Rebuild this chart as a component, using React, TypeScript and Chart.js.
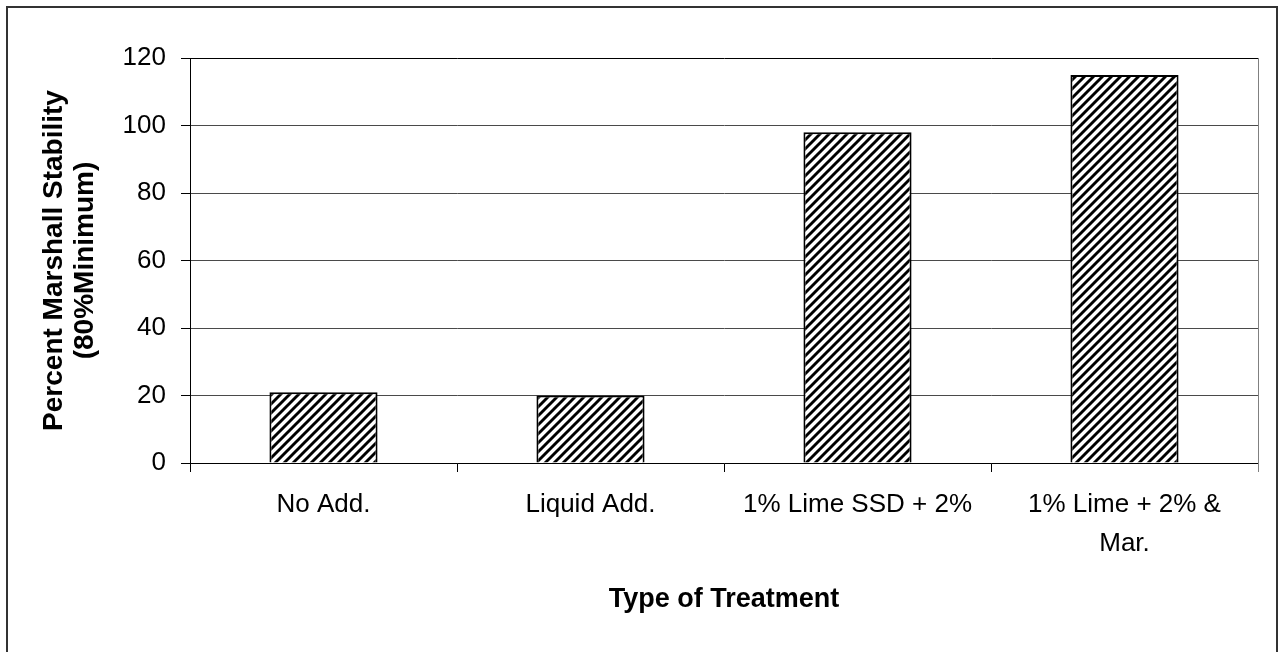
import React, { useEffect, useRef } from "react";
import { Chart, registerables } from "chart.js";

Chart.register(...registerables);

const categories: (string | string[])[] = [
  "No Add.",
  "Liquid Add.",
  "1% Lime SSD + 2%",
  ["1% Lime + 2% &", "Mar."],
];
const stabilityValues: number[] = [21, 20, 98, 115];
const yTickValues: number[] = [0, 20, 40, 60, 80, 100, 120];
const yTitle: string[] = ["Percent Marshall Stability", "(80%Minimum)"];
const xTitle = "Type of Treatment";

const FONT = "'Liberation Sans', Arial, sans-serif";

function makeHatch(): CanvasPattern | string {
  const s = 9;
  const c = document.createElement("canvas");
  c.width = s;
  c.height = s;
  const g = c.getContext("2d");
  if (!g) return "#000";
  g.fillStyle = "#fff";
  g.fillRect(0, 0, s, s);
  g.strokeStyle = "#000";
  g.lineWidth = 2.9;
  g.beginPath();
  g.moveTo(-2, 2);
  g.lineTo(2, -2);
  g.moveTo(0, s);
  g.lineTo(s, 0);
  g.moveTo(s - 2, s + 2);
  g.lineTo(s + 2, s - 2);
  g.stroke();
  const p = g.createPattern(c, "repeat");
  return p || "#000";
}

const framePlugin = {
  id: "frame",
  afterDraw(chart: any) {
    const { ctx, chartArea } = chart;
    ctx.save();
    ctx.strokeStyle = "#333";
    ctx.lineWidth = 2;
    ctx.strokeRect(7, 7, 1270, 700);
    ctx.strokeStyle = "#808080";
    ctx.lineWidth = 1;
    ctx.beginPath();
    ctx.moveTo(Math.round(chartArea.right) + 0.5, chartArea.top);
    ctx.lineTo(Math.round(chartArea.right) + 0.5, chartArea.bottom + 9);
    ctx.stroke();
    ctx.restore();
  },
};

export default function App() {
  const ref = useRef<HTMLCanvasElement | null>(null);

  useEffect(() => {
    if (!ref.current) return;
    const chart = new Chart(ref.current, {
      type: "bar",
      data: {
        labels: categories,
        datasets: [
          {
            label: "Percent Marshall Stability",
            data: stabilityValues,
            backgroundColor: makeHatch() as any,
            borderColor: "#000",
            borderWidth: 2,
            categoryPercentage: 1,
            barPercentage: 0.405,
          },
        ],
      },
      options: {
        animation: false,
        responsive: false,
        devicePixelRatio: 1,
        layout: { padding: { left: 30, top: 58, right: 23, bottom: 36 } },
        plugins: {
          legend: { display: false },
          tooltip: { enabled: false },
          title: { display: false },
        },
        scales: {
          x: {
            afterFit: (s: any) => {
              s.height = 153;
            },
            grid: {
              display: true,
              drawOnChartArea: false,
              drawTicks: true,
              tickLength: 9,
              color: "#000",
              tickColor: "#000",
              offset: true,
            },
            border: { display: true, color: "#000", width: 1 },
            ticks: {
              color: "#000",
              font: { family: FONT, size: 26, lineHeight: 1.5 },
              padding: 13,
              maxRotation: 0,
              minRotation: 0,
              autoSkip: false,
            },
            title: {
              display: true,
              text: xTitle,
              color: "#000",
              font: { family: FONT, size: 27, weight: "bold", lineHeight: 1.2 },
              padding: { top: 0, bottom: 0 },
            },
          },
          y: {
            min: 0,
            max: 120,
            afterFit: (s: any) => {
              s.width = 160;
            },
            afterBuildTicks: (s: any) => {
              s.ticks = yTickValues.map((v) => ({ value: v }));
            },
            grid: {
              color: (c: any) => (c.tick && c.tick.value === 120 ? "#000" : "#4a4a4a"),
              tickColor: "#000",
              tickLength: 9,
              lineWidth: 1,
            },
            border: { display: true, color: "#000", width: 1 },
            ticks: {
              color: "#000",
              font: { family: FONT, size: 26 },
              padding: 15,
            },
            title: {
              display: true,
              text: yTitle,
              color: "#000",
              font: { family: FONT, size: 28, weight: "bold", lineHeight: 1.13 },
              padding: { top: 8, bottom: 0 },
            },
          },
        },
      },
      plugins: [framePlugin],
    });
    return () => chart.destroy();
  }, []);

  return (
    <div style={{ position: "fixed", left: 0, top: 0, width: 1281, height: 652, background: "#fff" }}>
      <canvas ref={ref} width={1281} height={652} style={{ width: 1281, height: 652, display: "block" }} />
    </div>
  );
}
